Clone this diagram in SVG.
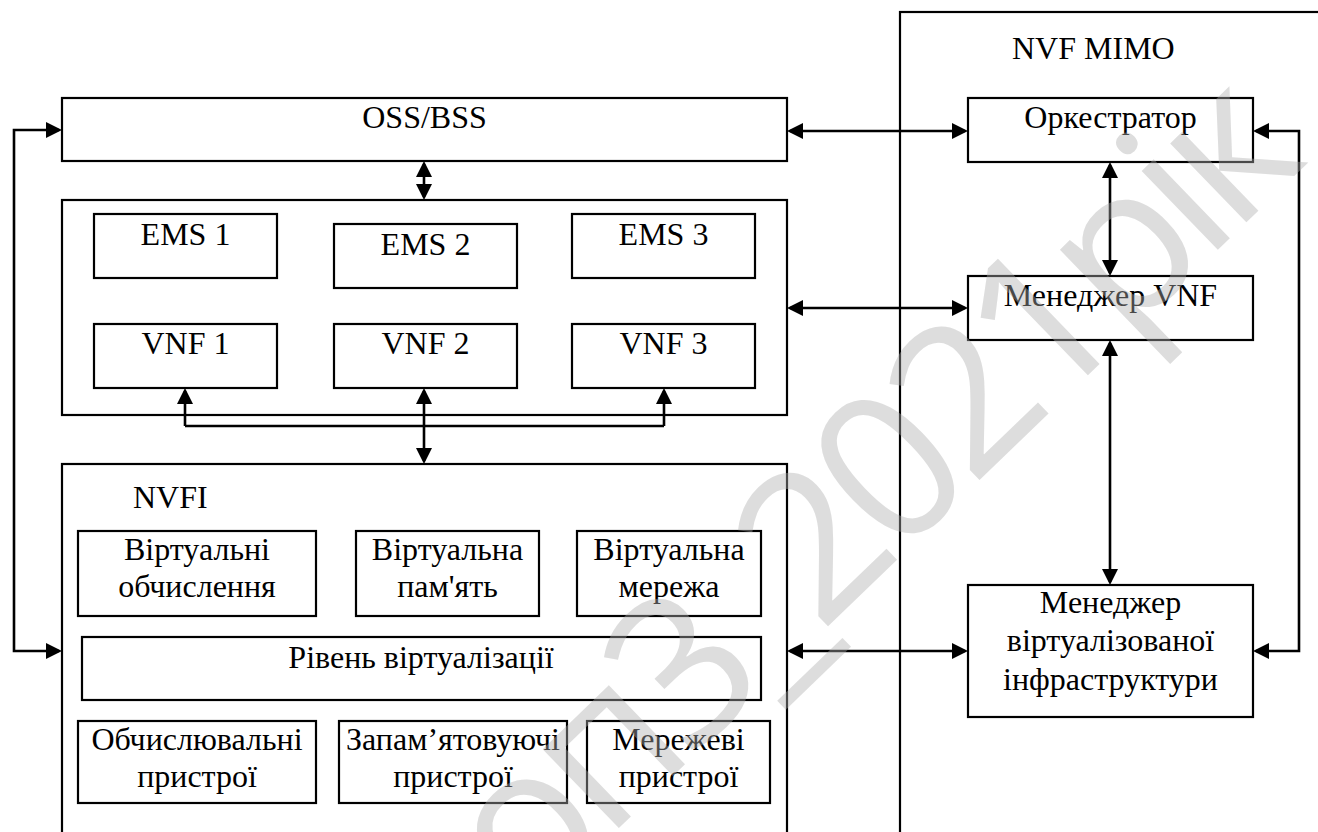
<svg xmlns="http://www.w3.org/2000/svg" width="1318" height="832" viewBox="0 0 1318 832">
  <style>
    .box { fill: none; stroke: #000; stroke-width: 2.2; }
    .conn { fill: none; stroke: #000; stroke-width: 2.6; }
  </style>
  <defs>
    <marker id="arr" viewBox="0 0 16 16" refX="13" refY="8" markerWidth="16" markerHeight="16" markerUnits="userSpaceOnUse" orient="auto-start-reverse">
      <path d="M0,0 L16,8 L0,16 z" fill="#000"/>
    </marker>
  </defs>

  <rect width="1318" height="832" fill="#fff"/>

  <!-- NFV MANO frame -->
  <g id="nvf-mimo">
    <rect class="box" x="900" y="12" width="500" height="900"/>
    <text x="1012" y="59" font-family="Liberation Serif" font-size="32">NVF MIMO</text>
  </g>

  <g id="oss-bss">
    <rect class="box" x="62" y="98" width="725" height="63"/>
    <text x="424.5" y="128" font-family="Liberation Serif" font-size="32" text-anchor="middle">OSS/BSS</text>
  </g>

  <!-- EMS / VNF layer -->
  <g id="vnf-layer">
    <rect class="box" x="62" y="200" width="725" height="215"/>
  </g>
  <g id="ems1">
    <rect class="box" x="94" y="214" width="183" height="64"/>
    <text x="185.5" y="245" font-family="Liberation Serif" font-size="32" text-anchor="middle">EMS 1</text>
  </g>
  <g id="ems2">
    <rect class="box" x="334" y="224" width="183" height="64"/>
    <text x="425.5" y="255" font-family="Liberation Serif" font-size="32" text-anchor="middle">EMS 2</text>
  </g>
  <g id="ems3">
    <rect class="box" x="572" y="214" width="183" height="64"/>
    <text x="663.5" y="245" font-family="Liberation Serif" font-size="32" text-anchor="middle">EMS 3</text>
  </g>
  <g id="vnf1">
    <rect class="box" x="94" y="324" width="183" height="64"/>
    <text x="185.5" y="354" font-family="Liberation Serif" font-size="32" text-anchor="middle">VNF 1</text>
  </g>
  <g id="vnf2">
    <rect class="box" x="334" y="324" width="183" height="64"/>
    <text x="425.5" y="354" font-family="Liberation Serif" font-size="32" text-anchor="middle">VNF 2</text>
  </g>
  <g id="vnf3">
    <rect class="box" x="572" y="324" width="183" height="64"/>
    <text x="663.5" y="354" font-family="Liberation Serif" font-size="32" text-anchor="middle">VNF 3</text>
  </g>

  <!-- Infrastructure layer -->
  <g id="nvfi">
    <rect class="box" x="62" y="464" width="725" height="450"/>
    <text x="133" y="508" font-family="Liberation Serif" font-size="32">NVFI</text>
  </g>
  <g id="virt-compute">
    <rect class="box" x="78" y="531" width="238" height="85"/>
    <text x="197" y="560" font-family="Liberation Serif" font-size="32" text-anchor="middle">Віртуальні</text>
    <text x="197" y="597" font-family="Liberation Serif" font-size="32" text-anchor="middle">обчислення</text>
  </g>
  <g id="virt-storage">
    <rect class="box" x="356" y="531" width="183" height="85"/>
    <text x="447.5" y="560" font-family="Liberation Serif" font-size="32" text-anchor="middle">Віртуальна</text>
    <text x="447.5" y="597" font-family="Liberation Serif" font-size="32" text-anchor="middle">пам'ять</text>
  </g>
  <g id="virt-network">
    <rect class="box" x="577" y="531" width="184" height="85"/>
    <text x="669" y="560" font-family="Liberation Serif" font-size="32" text-anchor="middle">Віртуальна</text>
    <text x="669" y="597" font-family="Liberation Serif" font-size="32" text-anchor="middle">мережа</text>
  </g>
  <g id="virt-layer">
    <rect class="box" x="82" y="637" width="679" height="63"/>
    <text x="421" y="668" font-family="Liberation Serif" font-size="32" text-anchor="middle">Рівень віртуалізації</text>
  </g>
  <g id="hw-compute">
    <rect class="box" x="78" y="721" width="238" height="82"/>
    <text x="197" y="750" font-family="Liberation Serif" font-size="32" text-anchor="middle">Обчислювальні</text>
    <text x="197" y="787" font-family="Liberation Serif" font-size="32" text-anchor="middle">пристрої</text>
  </g>
  <g id="hw-storage">
    <rect class="box" x="339" y="721" width="228" height="82"/>
    <text x="453" y="750" font-family="Liberation Serif" font-size="32" text-anchor="middle">Запам’ятовуючі</text>
    <text x="453" y="787" font-family="Liberation Serif" font-size="32" text-anchor="middle">пристрої</text>
  </g>
  <g id="hw-network">
    <rect class="box" x="587" y="721" width="183" height="82"/>
    <text x="678.5" y="750" font-family="Liberation Serif" font-size="32" text-anchor="middle">Мережеві</text>
    <text x="678.5" y="787" font-family="Liberation Serif" font-size="32" text-anchor="middle">пристрої</text>
  </g>

  <!-- Management blocks -->
  <g id="orchestrator">
    <rect class="box" x="968" y="98" width="285" height="64"/>
    <text x="1110.5" y="128" font-family="Liberation Serif" font-size="32" text-anchor="middle">Оркестратор</text>
  </g>
  <g id="vnf-manager">
    <rect class="box" x="968" y="276" width="285" height="64"/>
    <text x="1110.5" y="306" font-family="Liberation Serif" font-size="32" text-anchor="middle">Менеджер VNF</text>
  </g>
  <g id="vim">
    <rect class="box" x="968" y="585" width="285" height="132"/>
    <text x="1110.5" y="613" font-family="Liberation Serif" font-size="32" text-anchor="middle">Менеджер</text>
    <text x="1110.5" y="651" font-family="Liberation Serif" font-size="32" text-anchor="middle">віртуалізованої</text>
    <text x="1110.5" y="690" font-family="Liberation Serif" font-size="32" text-anchor="middle">інфраструктури</text>
  </g>

  <!-- Connectors -->
  <g id="connectors" class="conn" marker-start="url(#arr)" marker-end="url(#arr)">
    <path d="M59,651 H14 V130 H59"/>
    <path d="M424,164 V197"/>
    <path d="M790,131 H965"/>
    <path d="M790,308 H965"/>
    <path d="M790,651 H965"/>
    <path d="M1256,131 H1299 V651 H1256"/>
    <path d="M1110,165 V273"/>
    <path d="M1110,343 V582"/>
    <path d="M424,391 V461"/>
    <path d="M185,426 V391" marker-start="none"/>
    <path d="M664,426 V391" marker-start="none"/>
    <path d="M185,426 H664" marker-start="none" marker-end="none"/>
  </g>

  <!-- Watermark -->
  <g id="watermark">
    <text font-family="Open Sans" font-size="205" letter-spacing="-12" fill="#aeaeae" fill-opacity="0.42" text-anchor="middle" transform="translate(880,576) rotate(-44)">коп3_2021рік</text>
  </g>
</svg>
